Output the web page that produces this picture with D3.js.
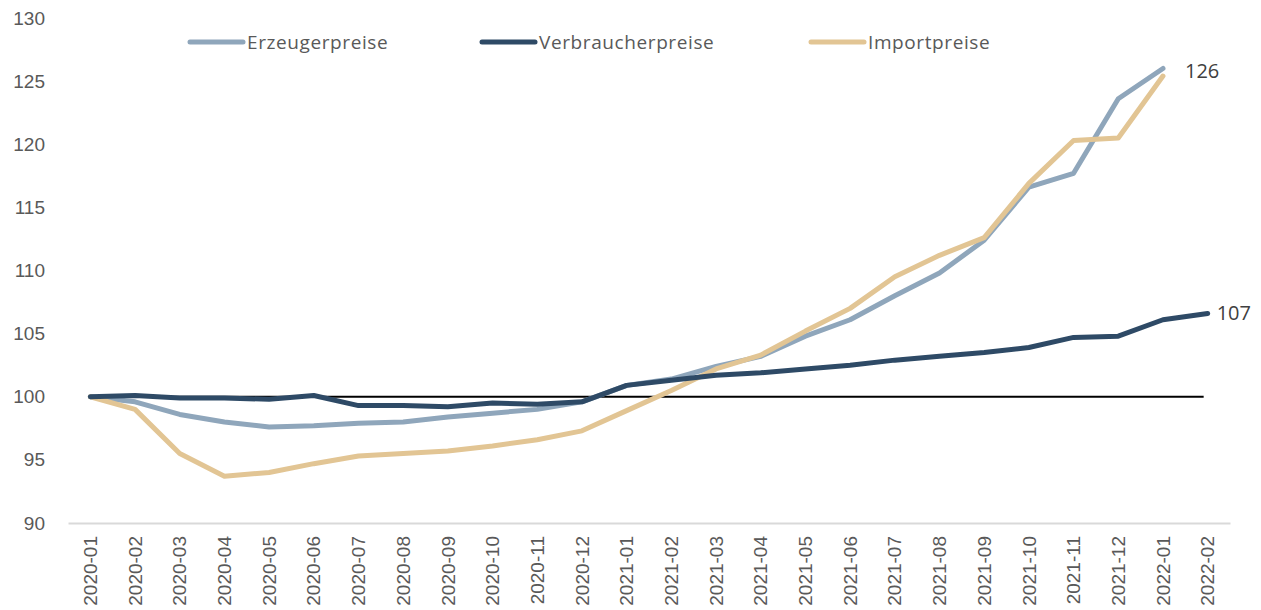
<!DOCTYPE html>
<html>
<head>
<meta charset="utf-8">
<script src="https://cdn.jsdelivr.net/npm/d3@7"></script>
<style>
  body { margin: 0; background: #fff; }
  svg { font-family: "Open Sans", sans-serif; }
  .tick-label { fill: #595959; font-size: 19px; }
  .legend-label { fill: #595959; font-size: 19px; letter-spacing: 0.6px; }
  .end-label { fill: #404040; font-size: 20px; }
</style>
</head>
<body>
<svg id="chart"></svg>
<script>
const months = ['2020-01','2020-02','2020-03','2020-04','2020-05','2020-06','2020-07','2020-08','2020-09','2020-10','2020-11','2020-12',
  '2021-01','2021-02','2021-03','2021-04','2021-05','2021-06','2021-07','2021-08','2021-09','2021-10','2021-11','2021-12',
  '2022-01','2022-02']

const erzeuger = [100, 99.6, 98.6, 98.0, 97.6, 97.7, 97.9, 98.0, 98.4, 98.7, 99.0, 99.6,
  100.9, 101.4, 102.4, 103.2, 104.8, 106.1, 108.0, 109.8, 112.4, 116.6, 117.7, 123.6, 126.0]
const verbraucher = [100, 100.1, 99.9, 99.9, 99.8, 100.1, 99.3, 99.3, 99.2, 99.5, 99.4, 99.6,
  100.9, 101.3, 101.7, 101.9, 102.2, 102.5, 102.9, 103.2, 103.5, 103.9, 104.7, 104.8, 106.1, 106.6]
const importp = [100, 99.0, 95.5, 93.7, 94.0, 94.7, 95.3, 95.5, 95.7, 96.1, 96.6, 97.3,
  98.9, 100.5, 102.2, 103.3, 105.2, 107.0, 109.5, 111.2, 112.6, 116.9, 120.3, 120.5, 125.4]

const seriesNames = ['Erzeugerpreise', 'Verbraucherpreise', 'Importpreise']
const colors = ['#8fa6bb', '#2e4a66', '#e2c594']
const yTicks = [90, 95, 100, 105, 110, 115, 120, 125, 130]
const endLabels = ['126', '107']

const width = 1261, height = 610
const margin = {top: 18, right: 31, bottom: 87, left: 68}
const innerW = width - margin.left - margin.right
const innerH = height - margin.top - margin.bottom

const svg = d3.select('#chart').attr('width', width).attr('height', height)
const chart = svg.append('g').attr('transform', `translate(${margin.left},${margin.top})`)

const xScale = d3.scaleBand().domain(months).range([0, innerW])
const xPos = m => xScale(m) + xScale.bandwidth() / 2
const yScale = d3.scaleLinear().domain([90, 130]).range([innerH, 0])

// y tick labels (no axis line)
const yAxis = d3.axisLeft(yScale).tickValues(yTicks).tickSize(0).tickPadding(23)
const yAxisG = chart.append('g').call(yAxis)
yAxisG.select('.domain').remove()
yAxisG.selectAll('text').attr('class', 'tick-label').attr('fill', null).style('font-size', null)

// x axis
const xAxis = d3.axisBottom(xScale).tickSize(0)
const xAxisG = chart.append('g').attr('transform', `translate(0,${innerH})`).call(xAxis)
xAxisG.select('.domain').attr('stroke', '#d9d9d9').attr('stroke-width', 2)
xAxisG.selectAll('text')
  .attr('class', 'tick-label')
  .attr('fill', null)
  .style('font-size', null)
  .attr('transform', 'rotate(-90)')
  .attr('x', -13)
  .attr('y', 0)
  .attr('dy', '0.35em')
  .style('text-anchor', 'end')

// reference line at 100
chart.append('line')
  .attr('x1', xPos(months[0]))
  .attr('x2', xPos(months[months.length - 1]) - 4)
  .attr('y1', yScale(100))
  .attr('y2', yScale(100))
  .attr('stroke', '#000')
  .attr('stroke-width', 2)

const line = d3.line()
  .x((d, i) => xPos(months[i]))
  .y(d => yScale(d))

const allSeries = [erzeuger, verbraucher, importp]
// draw order: erzeuger, import, verbraucher on top
const drawOrder = [0, 2, 1]
drawOrder.forEach(k => {
  chart.append('path')
    .datum(allSeries[k])
    .attr('fill', 'none')
    .attr('stroke', colors[k])
    .attr('stroke-width', 5)
    .attr('stroke-linejoin', 'round')
    .attr('stroke-linecap', 'round')
    .attr('d', line)
})

// end labels
chart.append('text')
  .attr('class', 'end-label')
  .attr('x', xPos(months[erzeuger.length - 1]) + 22)
  .attr('y', yScale(erzeuger[erzeuger.length - 1]) + 2)
  .attr('dy', '0.35em')
  .text(endLabels[0])

chart.append('text')
  .attr('class', 'end-label')
  .attr('x', xPos(months[verbraucher.length - 1]) + 9)
  .attr('y', yScale(verbraucher[verbraucher.length - 1]))
  .attr('dy', '0.35em')
  .text(endLabels[1])

// legend
const legendX = [188, 480, 809]
const legend = svg.append('g').attr('transform', 'translate(0,42)')
seriesNames.forEach((name, i) => {
  const g = legend.append('g').attr('transform', `translate(${legendX[i]},0)`)
  g.append('line')
    .attr('x1', 2).attr('x2', 55)
    .attr('stroke', colors[i])
    .attr('stroke-width', 5)
    .attr('stroke-linecap', 'round')
  g.append('text')
    .attr('class', 'legend-label')
    .attr('x', 59)
    .attr('dy', '0.35em')
    .text(name)
})
</script>
</body>
</html>
